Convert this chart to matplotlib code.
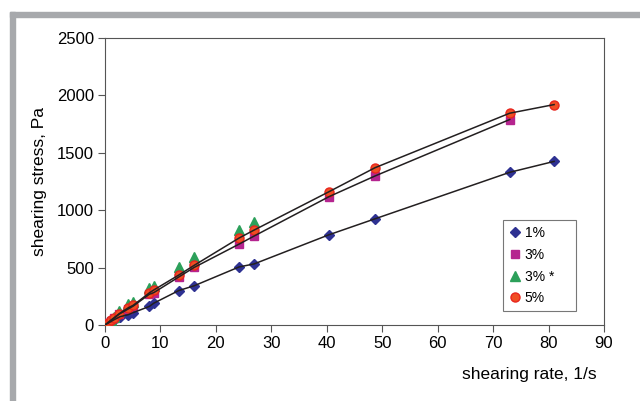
import matplotlib
matplotlib.use("Agg")
import matplotlib.pyplot as plt
from matplotlib.patches import Rectangle

plt.rcParams['font.family'] = ['Liberation Sans', 'DejaVu Sans']

# data
rate_1 = [0.1, 0.5, 1.0, 1.6, 2.7, 4.2, 5.1, 8.0, 8.8, 13.3, 16.1, 24.2, 26.9, 40.4, 48.7, 73.0, 81.0]
stress_1 = [3, 15, 28, 45, 72, 90, 108, 162, 190, 300, 342, 506, 532, 786, 925, 1330, 1425]

rate_3 = [0.1, 0.5, 1.0, 1.6, 2.6, 4.2, 5.1, 8.0, 8.8, 13.3, 16.1, 24.2, 26.9, 40.4, 48.7, 73.0]
stress_3 = [4, 18, 35, 58, 96, 140, 165, 268, 282, 418, 502, 705, 775, 1118, 1298, 1790]

rate_3s = [0.1, 0.5, 1.0, 1.6, 2.6, 4.2, 5.1, 8.0, 8.8, 13.3, 16.1, 24.2, 26.9]
stress_3s = [5, 22, 45, 72, 120, 180, 200, 320, 342, 508, 590, 827, 900]

rate_5 = [0.1, 0.5, 1.0, 1.6, 2.6, 4.2, 5.1, 8.0, 8.8, 13.3, 16.1, 24.2, 26.9, 40.4, 48.7, 73.0, 81.0]
stress_5 = [4, 20, 40, 62, 100, 150, 172, 280, 305, 435, 520, 758, 827, 1161, 1370, 1845, 1920]

fig = plt.figure(figsize=(6.4, 4.01), dpi=100)
# gray frame on top and left
fig.patches.append(Rectangle((10/640, 0), 5/640, 1 - 12/401, transform=fig.transFigure,
                             color='#a7a9ac', zorder=0))
fig.patches.append(Rectangle((10/640, 1 - 17/401), 1, 5/401, transform=fig.transFigure,
                             color='#a7a9ac', zorder=0))

ax = fig.add_axes([105/640, 1 - 325/401, 499/640, 287/401])

ax.plot(rate_1, stress_1, 'D', color='#2e3192', ms=5, label='1%', zorder=3)
ax.plot(rate_3, stress_3, 's', color='#b5248f', ms=6, label='3%', zorder=3)
ax.plot(rate_3s, stress_3s, '^', color='#2ca05a', ms=6.5, label='3% *' + '\u00a0' * 4, zorder=3)
ax.plot(rate_5, stress_5, 'o', color='#f04e23', mec='#e8251d', ms=6.5, label='5%', zorder=3)

# fitted lines drawn over the markers
ax.plot(rate_1, stress_1, '-', color='#231f20', lw=1.1, zorder=4)
ax.plot(rate_3, stress_3, '-', color='#231f20', lw=1.1, zorder=4)
ax.plot(rate_5, stress_5, '-', color='#231f20', lw=1.1, zorder=4)

ax.set_xlim(0, 90)
ax.set_ylim(0, 2500)
ax.set_xticks(range(0, 91, 10))
ax.set_yticks(range(0, 2501, 500))
ax.tick_params(labelsize=12, length=5, width=0.8, color='#555555', pad=3)
for s in ax.spines.values():
    s.set_color('#555555')
    s.set_linewidth(0.8)

fig.text(40/640, 1 - 182/401, 'shearing stress, Pa', rotation=90, ha='center', va='center', fontsize=12.5)
fig.text(597/640, 1 - 375/401, 'shearing rate, 1/s', ha='right', va='center', fontsize=12.5)

leg = ax.legend(loc='upper left', bbox_to_anchor=(398/499, 1 - (220 - 38)/287), frameon=True,
                fancybox=False, fontsize=10, handlelength=0.8, handletextpad=0.3,
                labelspacing=0.55, borderpad=0.45, borderaxespad=0)
leg.get_frame().set_edgecolor('#555555')
leg.get_frame().set_linewidth(0.8)

fig.savefig('out.png', dpi=100)
